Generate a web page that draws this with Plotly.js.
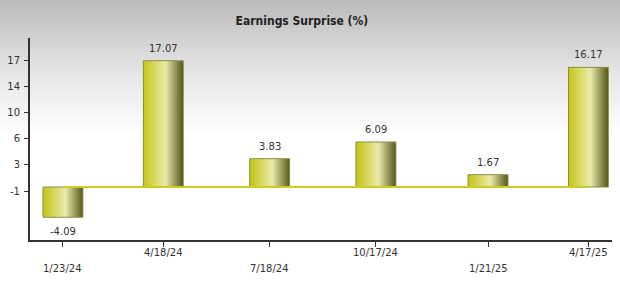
<!DOCTYPE html>
<html>
<head>
<meta charset="utf-8">
<script src="https://cdn.plot.ly/plotly-3.0.1.min.js"></script>
<style>
  html, body { margin: 0; padding: 0; }
  body { width: 620px; height: 282px; background: linear-gradient(to bottom, #bababa 0%, #e4e4e4 25%, #ffffff 48%, #ffffff 100%); }
  #chart { width: 620px; height: 282px; }
</style>
</head>
<body>
<div id="chart"></div>
<script>
// ---- data ----
const dates = ['2024-01-23', '2024-04-18', '2024-07-18', '2024-10-17', '2025-01-21', '2025-04-17'];
const dateLabels = ['1/23/24', '4/18/24', '7/18/24', '10/17/24', '1/21/25', '4/17/25'];
const surprise = [-4.09, 17.07, 3.83, 6.09, 1.67, 16.17];
const yTickLabels = ['-1', '3', '6', '10', '14', '17'];
const titleText = 'Earnings Surprise (%)';

// ---- styling helpers ----
const DAY = 86400000;
const barWidth = 34.2 * DAY;
const N = 40;
const stops = [[0, [196, 196, 20]], [0.56, [234, 234, 170]], [1, [86, 86, 26]]];
function colorAt(t) {
  for (let k = 0; k < stops.length - 1; k++) {
    const [t0, c0] = stops[k], [t1, c1] = stops[k + 1];
    if (t >= t0 && t <= t1) {
      const f = (t - t0) / (t1 - t0);
      const c = c0.map((v, j) => Math.round(v + (c1[j] - v) * f));
      return 'rgb(' + c.join(',') + ')';
    }
  }
  return 'rgb(86,86,26)';
}

const traces = [];
// zero line
traces.push({
  type: 'scatter', mode: 'lines',
  x: [dates[0], dates[dates.length - 1]], y: [0, 0],
  line: { color: '#cccc22', width: 2 }, hoverinfo: 'skip', showlegend: false
});
// gradient stripes
const sw = barWidth / N;
for (let i = 0; i < N; i++) {
  const w = (i < N - 1) ? sw * 1.6 : sw;
  traces.push({
    type: 'bar', x: dates, y: surprise,
    width: dates.map(() => w),
    offset: -barWidth / 2 + i * sw,
    marker: { color: colorAt((i + 0.5) / N), line: { width: 0 } },
    hoverinfo: 'skip', showlegend: false
  });
}
// outline
traces.push({
  type: 'bar', x: dates, y: surprise,
  width: dates.map(() => barWidth),
  offset: -barWidth / 2,
  marker: { color: 'rgba(0,0,0,0)', line: { color: '#8c8c48', width: 1 } },
  hoverinfo: 'skip', showlegend: false
});

const font = { family: 'DejaVu Sans, sans-serif', size: 10, color: '#333' };
const annotations = [];
surprise.forEach((v, i) => {
  annotations.push({
    x: dates[i], y: v, xref: 'x', yref: 'y', showarrow: false,
    text: v.toFixed(2), font: font,
    yanchor: v >= 0 ? 'bottom' : 'top', yshift: v >= 0 ? 5 : -7
  });
});
dateLabels.forEach((lab, i) => {
  annotations.push({
    x: dates[i], y: 0, xref: 'x', yref: 'paper', showarrow: false,
    text: lab, font: font, yanchor: 'top',
    yshift: (i % 2 === 1) ? -5 : -21
  });
});

const yTop = 17.16, yBot = -0.54;
const yTickVals = yTickLabels.map((_, i) => yBot + (yTop - yBot) * i / (yTickLabels.length - 1));

const layout = {
  width: 620, height: 282,
  margin: { l: 30, r: 8, t: 38, b: 42 },
  paper_bgcolor: 'rgba(0,0,0,0)', plot_bgcolor: 'rgba(0,0,0,0)',
  barmode: 'overlay', bargap: 0,
  title: {
    text: '<b>' + titleText + '</b>',
    font: { family: 'DejaVu Sans Condensed, DejaVu Sans, sans-serif', size: 12, color: '#222' },
    x: 0.487, xref: 'container', xanchor: 'center',
    y: 1 - 21 / 282, yref: 'container', yanchor: 'middle'
  },
  xaxis: {
    type: 'date',
    range: ['2023-12-25 19:00', '2025-05-07 04:00'],
    showgrid: false, zeroline: false,
    showline: true, linecolor: '#333', linewidth: 2,
    tickmode: 'array', tickvals: dates, ticktext: dateLabels,
    showticklabels: false, ticks: 'outside', ticklen: 5, tickcolor: '#333', tickwidth: 1,
    fixedrange: true
  },
  yaxis: {
    range: [-7.16, 20.14],
    showgrid: false, zeroline: false,
    showline: true, linecolor: '#333', linewidth: 2,
    tickmode: 'array', tickvals: yTickVals, ticktext: yTickLabels,
    ticks: 'outside', ticklen: 4, tickcolor: '#333', tickwidth: 1,
    tickfont: font, ticklabelstandoff: 2,
    fixedrange: true
  },
  annotations: annotations,
  showlegend: false
};

Plotly.newPlot('chart', traces, layout, { displayModeBar: false, staticPlot: true });
</script>
</body>
</html>
